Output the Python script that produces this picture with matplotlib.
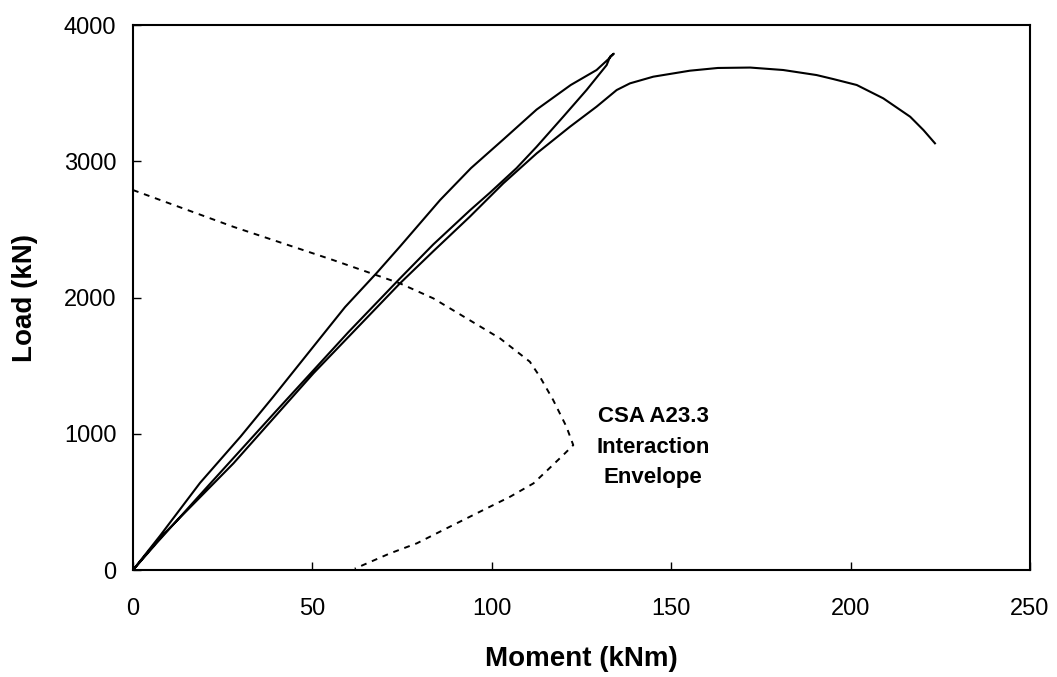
import matplotlib.pyplot as plt

# Column test: load path (loading, unloading, reloading to failure)
load_up_m = [0, 7.5, 18.7, 30, 39.1, 52.1, 59.1, 67.9, 74.4, 85.6, 94.2, 103.2, 112.5, 122, 129.2, 132.5, 134]
load_up_p = [0, 250, 640, 980, 1272, 1700, 1930, 2180, 2374, 2716, 2950, 3160, 3380, 3560, 3670, 3750, 3790]

unload_m = [133, 132, 126.4, 119.9, 112.5, 106.9, 99.5, 93.9, 83.7, 74.4, 60, 40, 20, 7, 0]
unload_p = [3770, 3706, 3523, 3327, 3107, 2950, 2770, 2640, 2390, 2140, 1745, 1170, 590, 210, 0]

reload_m = [0, 7.5, 28, 50.3, 74.4, 83.7, 93.9, 103.2, 112.5, 121.8, 129.2, 134.8, 138.5, 145,
            155.2, 163, 172, 181.2, 190.5, 195.1, 201.7, 209.1, 216.6, 220.3, 223.5]
reload_p = [0, 235, 783, 1444, 2104, 2340, 2594, 2838, 3058, 3254, 3401, 3523, 3572, 3621,
            3665, 3685, 3688, 3670, 3633, 3604, 3560, 3462, 3327, 3229, 3132]

# CSA A23.3 interaction envelope
env_m = [0, 27.9, 55.8, 74.4, 83.7, 102.3, 110.6, 113.4, 117.1, 120.8, 122.7, 119.9,
         115.3, 111.6, 105.1, 97.6, 88.3, 79.1, 71.6, 61.8]
env_p = [2789, 2520, 2275, 2104, 1994, 1700, 1529, 1419, 1248, 1052, 917, 844,
         728, 636, 538, 440, 318, 196, 122, 10]

plt.rcParams['font.family'] = ['Liberation Sans', 'DejaVu Sans']

fig = plt.figure(figsize=(10.57, 6.77), dpi=100)
ax = fig.add_axes([0.1258, 0.158, 0.8487, 0.805])

path_m = load_up_m + unload_m + reload_m
path_p = load_up_p + unload_p + reload_p
ax.plot(path_m, path_p, color='black', lw=1.5)
ax.plot(env_m, env_p, color='black', lw=1.4, dashes=(3, 3))

ax.text(145, 903, "CSA A23.3\nInteraction\nEnvelope", ha='center', va='center',
        fontsize=16, fontweight='bold', linespacing=1.6)

ax.set_xlim(0, 250)
ax.set_ylim(0, 4000)
ax.set_xticks([0, 50, 100, 150, 200, 250])
ax.set_yticks([0, 1000, 2000, 3000, 4000])
ax.tick_params(direction='in', length=6, width=1, labelsize=17, pad=12)
ax.tick_params(axis='x', pad=20)
for s in ax.spines.values():
    s.set_linewidth(1.5)

ax.set_xlabel("Moment (kNm)", fontsize=20, fontweight='bold')
ax.set_ylabel("Load (kN)", fontsize=20, fontweight='bold')
ax.xaxis.set_label_coords(0.5, -0.14)
ax.yaxis.set_label_coords(-0.106, 0.5)

fig.savefig("out.png", dpi=100)
